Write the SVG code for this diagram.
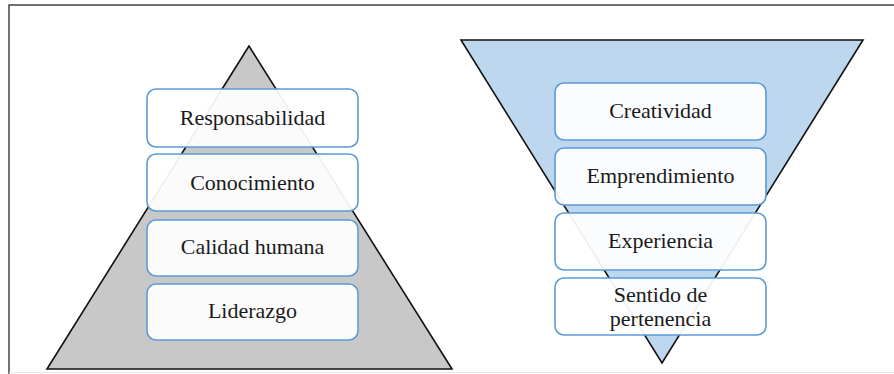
<svg xmlns="http://www.w3.org/2000/svg" width="894" height="374" viewBox="0 0 894 374">
<style>
.box{fill:#ffffff;fill-opacity:0.93;stroke:#5b9bd5;stroke-width:1.6}
.lbl{font-family:"Liberation Serif","Times New Roman",serif;font-size:22px;fill:#1a1a1a;text-anchor:middle}
.tri{stroke:#111;stroke-width:1.6;stroke-linejoin:miter}
</style>
<rect width="894" height="374" fill="#ffffff"/>
<path d="M894,5 H9 V374" fill="none" stroke="#444" stroke-width="1.5"/>
<line x1="9" y1="372.5" x2="894" y2="372.5" stroke="#e6e6e6" stroke-width="1"/>
<g id="pyramid">
<polygon class="tri" points="249,46 47,369 452,369" fill="#c8c8c8"/>
</g>
<g id="funnel">
<polygon class="tri" points="461,40 863,40 662,363" fill="#bdd7ee"/>
</g>
<g id="connectors"></g>
<g id="n-responsabilidad"><rect class="box" x="147" y="89" width="211" height="58" rx="9"/><text class="lbl" x="252.5" y="125">Responsabilidad</text></g>
<g id="n-conocimiento"><rect class="box" x="147" y="154" width="211" height="57" rx="9"/><text class="lbl" x="252.5" y="190">Conocimiento</text></g>
<g id="n-calidad"><rect class="box" x="147" y="220" width="211" height="56" rx="9"/><text class="lbl" x="252.5" y="254">Calidad humana</text></g>
<g id="n-liderazgo"><rect class="box" x="147" y="284" width="211" height="56" rx="9"/><text class="lbl" x="252.5" y="318">Liderazgo</text></g>
<g id="n-creatividad"><rect class="box" x="555" y="83" width="211" height="57" rx="9"/><text class="lbl" x="660.5" y="118">Creatividad</text></g>
<g id="n-emprendimiento"><rect class="box" x="555" y="148" width="211" height="57" rx="9"/><text class="lbl" x="660.5" y="183">Emprendimiento</text></g>
<g id="n-experiencia"><rect class="box" x="555" y="213" width="211" height="57" rx="9"/><text class="lbl" x="660.5" y="248">Experiencia</text></g>
<g id="n-sentido"><rect class="box" x="555" y="278" width="211" height="57" rx="9"/><text class="lbl" x="660.5" y="302">Sentido de</text><text class="lbl" x="660.5" y="326">pertenencia</text></g>
</svg>
